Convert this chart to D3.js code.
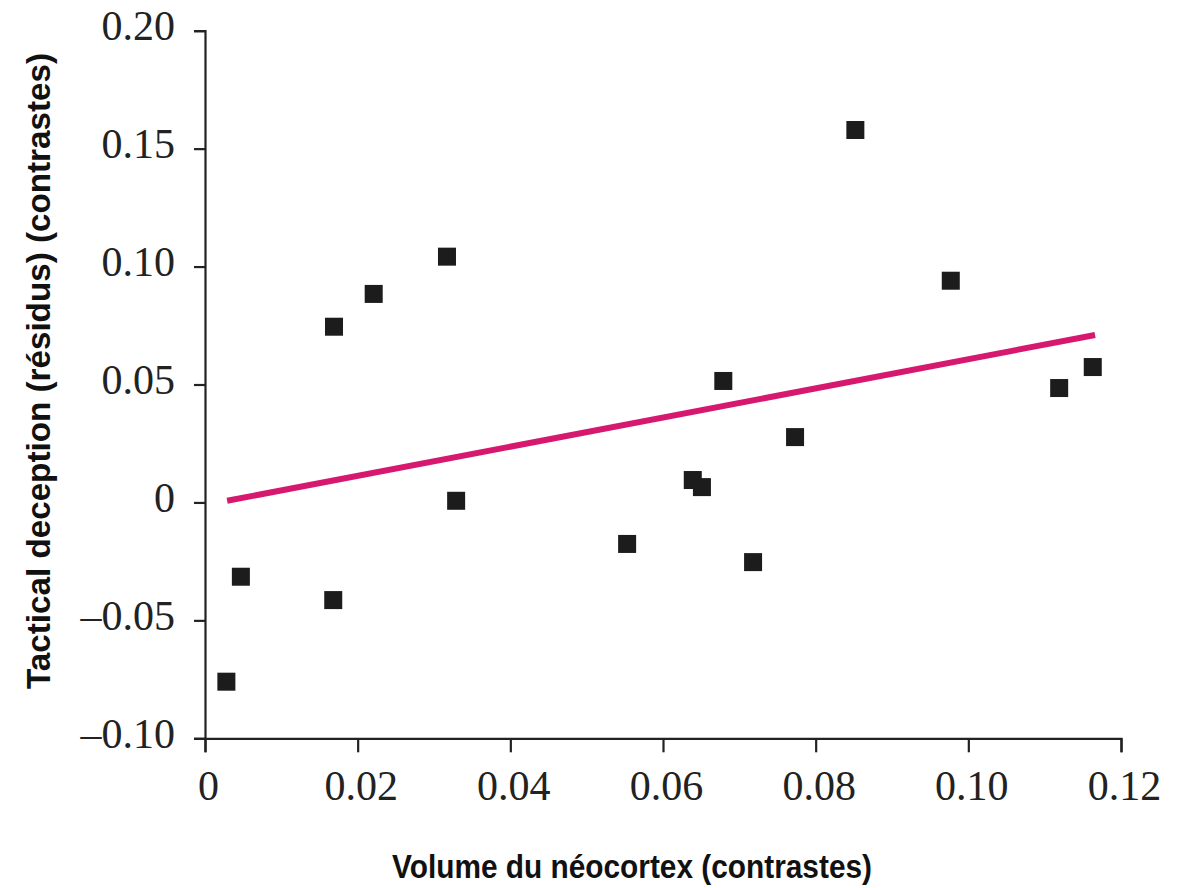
<!DOCTYPE html>
<html>
<head>
<meta charset="utf-8">
<script src="https://cdn.jsdelivr.net/npm/d3@7"></script>
<style>
  body { margin: 0; background: #fff; }
  .tick text { font-family: "Liberation Serif", "Times New Roman", serif; font-size: 42px; fill: #222; }
  .axis-title { font-family: "Liberation Sans Narrow", "Liberation Sans", Arial, sans-serif; font-weight: bold; font-size: 34px; fill: #111; }
</style>
</head>
<body>
<svg width="1183" height="888"></svg>
<script>
// contrast values
const neocortex = [0.0028, 0.0047, 0.0168, 0.0169, 0.0221, 0.0317, 0.0329, 0.0553, 0.0639, 0.0651,
                   0.0679, 0.0718, 0.0773, 0.0852, 0.0977, 0.1119, 0.1163];
const deception = [-0.0760, -0.0315, -0.0414, 0.0745, 0.0884, 0.1042, 0.0007, -0.0176, 0.0095, 0.0065,
                   0.0515, -0.0253, 0.0277, 0.1579, 0.0940, 0.0485, 0.0574];
// regression line end points
const fitX = [0.0029, 0.1166];
const fitY = [0.0007, 0.0710];

const xTicks = [0, 0.02, 0.04, 0.06, 0.08, 0.10, 0.12];
const xTickLabels = ["0", "0.02", "0.04", "0.06", "0.08", "0.10", "0.12"];
const yTicks = [-0.10, -0.05, 0, 0.05, 0.10, 0.15, 0.20];
const yTickLabels = ["\u20130.10", "\u20130.05", "0", "0.05", "0.10", "0.15", "0.20"];

var svg = d3.select("svg");

const x = d3.scaleLinear().domain([0, 0.12]).range([205, 1121]);
const y = d3.scaleLinear().domain([-0.10, 0.20]).range([738.3, 30.7]);

var xAxis = svg.append("g")
    .attr("transform", "translate(0," + y(-0.10) + ")")
    .call(d3.axisBottom(x)
      .tickValues(xTicks)
      .tickFormat(function(d, i) { return xTickLabels[i]; })
      .tickSizeOuter(0)
      .tickSize(14)
      .tickPadding(16));

var yAxis = svg.append("g")
    .attr("transform", "translate(" + x(0) + ",0)")
    .call(d3.axisLeft(y)
      .tickValues(yTicks)
      .tickFormat(function(d, i) { return yTickLabels[i]; })
      .tickSizeOuter(0)
      .tickSize(11)
      .tickPadding(19));

svg.selectAll(".domain, .tick line")
    .attr("stroke", "#222")
    .attr("stroke-width", 2.2);
xAxis.selectAll(".tick text").attr("dy", "0.76em").attr("dx", 3);
yAxis.selectAll(".tick text").attr("dy", "0.22em");

// regression line
svg.append("line")
    .attr("x1", x(fitX[0]))
    .attr("y1", y(fitY[0]))
    .attr("x2", x(fitX[1]))
    .attr("y2", y(fitY[1]))
    .attr("stroke", "#d6186f")
    .attr("stroke-width", 6);

// points
const pts = neocortex.map(function(v, i) { return { x: v, y: deception[i] }; });
const S = 18;
svg.append("g")
  .selectAll("rect")
  .data(pts)
  .enter().append("rect")
    .attr("x", function(d) { return x(d.x) - S / 2; })
    .attr("y", function(d) { return y(d.y) - S / 2; })
    .attr("width", S)
    .attr("height", S)
    .attr("fill", "#1c1c1c");

// axis titles
svg.append("text")
    .attr("class", "axis-title")
    .attr("x", 632)
    .attr("y", 878)
    .attr("text-anchor", "middle")
    .attr("textLength", 480)
    .attr("lengthAdjust", "spacingAndGlyphs")
    .text("Volume du néocortex (contrastes)");

svg.append("text")
    .attr("class", "axis-title")
    .attr("transform", "translate(50,371) rotate(-90)")
    .attr("text-anchor", "middle")
    .attr("textLength", 636)
    .attr("lengthAdjust", "spacingAndGlyphs")
    .text("Tactical deception (résidus) (contrastes)");
</script>
</body>
</html>
